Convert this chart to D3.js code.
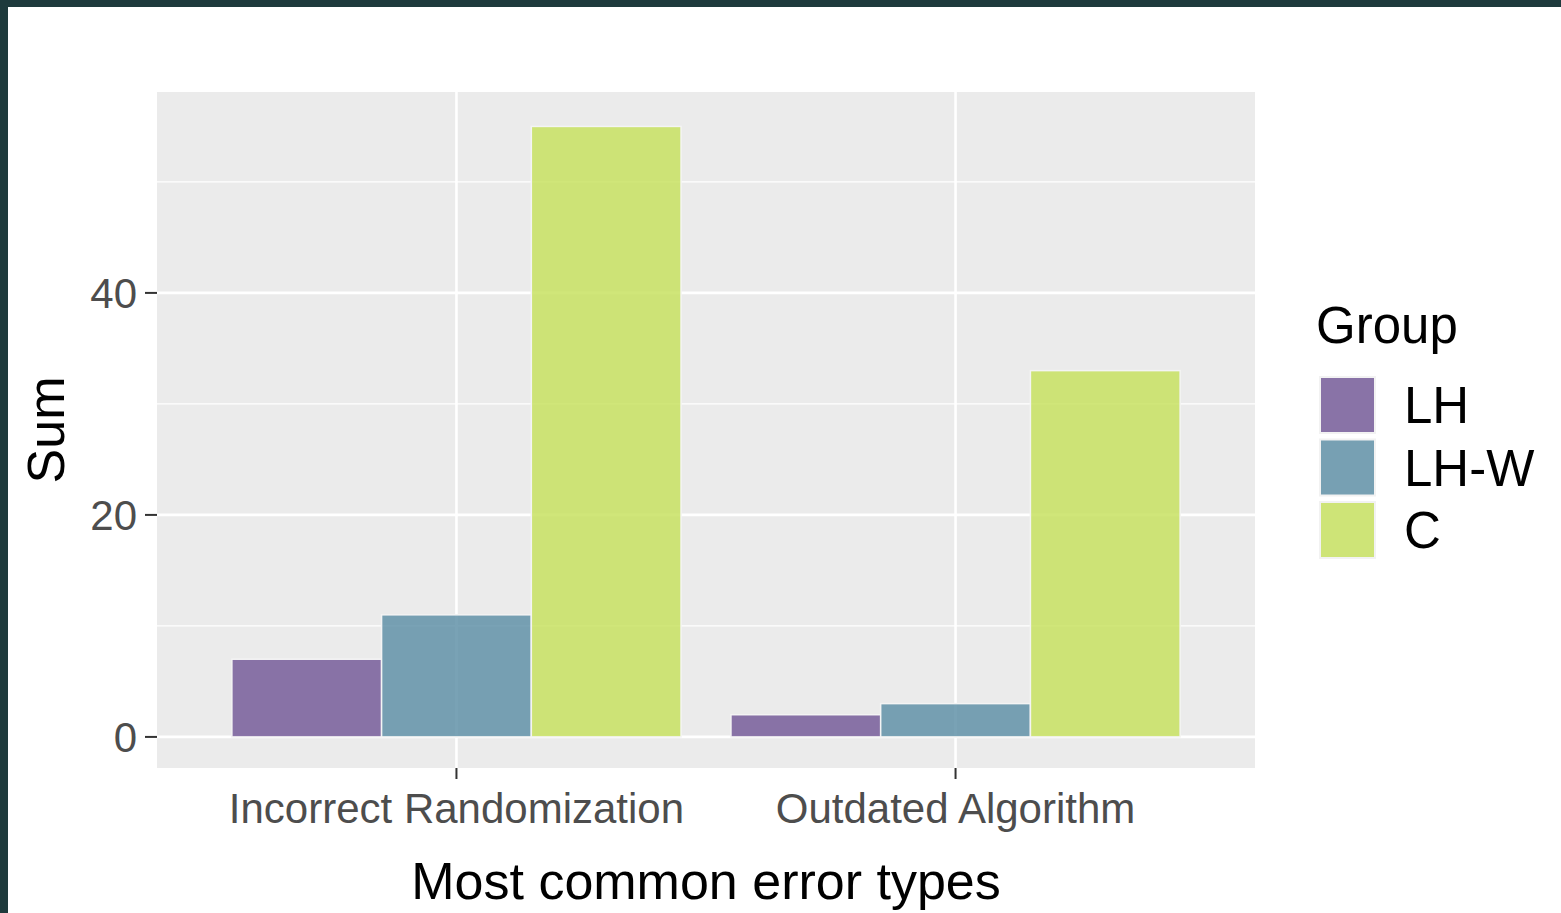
<!DOCTYPE html>
<html>
<head>
<meta charset="utf-8">
<script src="https://cdn.jsdelivr.net/npm/d3@7"></script>
<style>
  html, body { margin: 0; padding: 0; background: #ffffff; }
  svg { display: block; font-family: "Liberation Sans", Arial, sans-serif; }
</style>
</head>
<body>
<svg id="chart" width="1561" height="913"></svg>
<script>
// ---- data ----
const categories = ["Incorrect Randomization", "Outdated Algorithm"];
const groups = ["LH", "LH-W", "C"];
const valuesLH  = [7, 2];
const valuesLHW = [11, 3];
const valuesC   = [55, 33];
const groupColors = ["#775d9a", "#6292a8", "#c8e262"];
const yTicks = [0, 20, 40];
const yMinor = [10, 30, 50];
const xTitle = "Most common error types";
const yTitle = "Sum";
const legendTitle = "Group";

const seriesValues = [valuesLH, valuesLHW, valuesC];
const rows = [];
categories.forEach((cat, ci) => {
  groups.forEach((g, gi) => rows.push({ cat, group: g, value: seriesValues[gi][ci] }));
});

// ---- layout ----
const svg = d3.select("#chart");
const W = 1561, H = 913;
const panel = { left: 157, right: 1255, top: 92, bottom: 768 };

// frame border
svg.append("rect").attr("x", 0).attr("y", 0).attr("width", W).attr("height", H).attr("fill", "#1e3a3c");
svg.append("rect").attr("x", 8).attr("y", 7).attr("width", W - 8).attr("height", H - 7).attr("fill", "#ffffff");

const x = d3.scaleBand().domain(categories).range([panel.left, panel.right])
  .paddingInner(0.1).paddingOuter(0.15);
const xSub = d3.scaleBand().domain(groups).range([0, x.bandwidth()]).padding(0);
const y = d3.scaleLinear().domain([-2.8, 58.1]).range([panel.bottom, panel.top]);
const color = d3.scaleOrdinal().domain(groups).range(groupColors);

// panel background
svg.append("rect")
  .attr("x", panel.left).attr("y", panel.top)
  .attr("width", panel.right - panel.left).attr("height", panel.bottom - panel.top)
  .attr("fill", "#ebebeb");

// minor grid
svg.append("g").selectAll("line").data(yMinor).join("line")
  .attr("x1", panel.left).attr("x2", panel.right)
  .attr("y1", d => y(d)).attr("y2", d => y(d))
  .attr("stroke", "#ffffff").attr("stroke-width", 1.3);
// major grid
svg.append("g").selectAll("line").data(yTicks).join("line")
  .attr("x1", panel.left).attr("x2", panel.right)
  .attr("y1", d => y(d)).attr("y2", d => y(d))
  .attr("stroke", "#ffffff").attr("stroke-width", 2.6);
svg.append("g").selectAll("line").data(categories).join("line")
  .attr("x1", d => x(d) + x.bandwidth() / 2).attr("x2", d => x(d) + x.bandwidth() / 2)
  .attr("y1", panel.top).attr("y2", panel.bottom)
  .attr("stroke", "#ffffff").attr("stroke-width", 2.6);

// bars
svg.append("g").selectAll("rect").data(rows).join("rect")
  .attr("x", d => x(d.cat) + xSub(d.group))
  .attr("width", xSub.bandwidth())
  .attr("y", d => y(d.value))
  .attr("height", d => y(0) - y(d.value))
  .attr("fill", d => color(d.group))
  .attr("fill-opacity", 0.85)
  .attr("stroke", "#f4f4f4")
  .attr("stroke-width", 1.5);

// y axis ticks & labels
const yAxis = svg.append("g");
yAxis.selectAll("line").data(yTicks).join("line")
  .attr("x1", panel.left - 12).attr("x2", panel.left)
  .attr("y1", d => y(d)).attr("y2", d => y(d))
  .attr("stroke", "#333333").attr("stroke-width", 2);
yAxis.selectAll("text").data(yTicks).join("text")
  .attr("x", panel.left - 20).attr("y", d => y(d)).attr("dy", "0.36em")
  .attr("text-anchor", "end").attr("font-size", 42).attr("fill", "#4d4d4d")
  .text(d => d);

// x axis ticks & labels
const xAxis = svg.append("g");
xAxis.selectAll("line").data(categories).join("line")
  .attr("x1", d => x(d) + x.bandwidth() / 2).attr("x2", d => x(d) + x.bandwidth() / 2)
  .attr("y1", panel.bottom).attr("y2", panel.bottom + 11)
  .attr("stroke", "#333333").attr("stroke-width", 2);
xAxis.selectAll("text").data(categories).join("text")
  .attr("x", d => x(d) + x.bandwidth() / 2).attr("y", 823)
  .attr("text-anchor", "middle").attr("font-size", 42).attr("fill", "#4d4d4d")
  .text(d => d);

// axis titles
svg.append("text")
  .attr("x", (panel.left + panel.right) / 2).attr("y", 899)
  .attr("text-anchor", "middle").attr("font-size", 52).attr("fill", "#000000")
  .text(xTitle);
svg.append("text")
  .attr("transform", `translate(64, ${(panel.top + panel.bottom) / 2}) rotate(-90)`)
  .attr("text-anchor", "middle").attr("font-size", 52).attr("fill", "#000000")
  .text(yTitle);

// legend
const legend = svg.append("g");
legend.append("text")
  .attr("x", 1316).attr("y", 343)
  .attr("font-size", 51).attr("fill", "#000000")
  .text(legendTitle);
const keyY = d3.scalePoint().domain(groups).range([405, 530]);
legend.selectAll("rect.key").data(groups).join("rect")
  .attr("class", "key")
  .attr("x", 1319).attr("y", d => keyY(d) - 29)
  .attr("width", 57).attr("height", 58)
  .attr("fill", "#f2f2f2");
legend.selectAll("rect.fill").data(groups).join("rect")
  .attr("class", "fill")
  .attr("x", 1321).attr("y", d => keyY(d) - 27)
  .attr("width", 53).attr("height", 54)
  .attr("fill", d => color(d)).attr("fill-opacity", 0.85);
legend.selectAll("text.lab").data(groups).join("text")
  .attr("class", "lab")
  .attr("x", 1404).attr("y", d => keyY(d)).attr("dy", "0.36em")
  .attr("font-size", 51).attr("fill", "#000000")
  .text(d => d);
</script>
</body>
</html>
